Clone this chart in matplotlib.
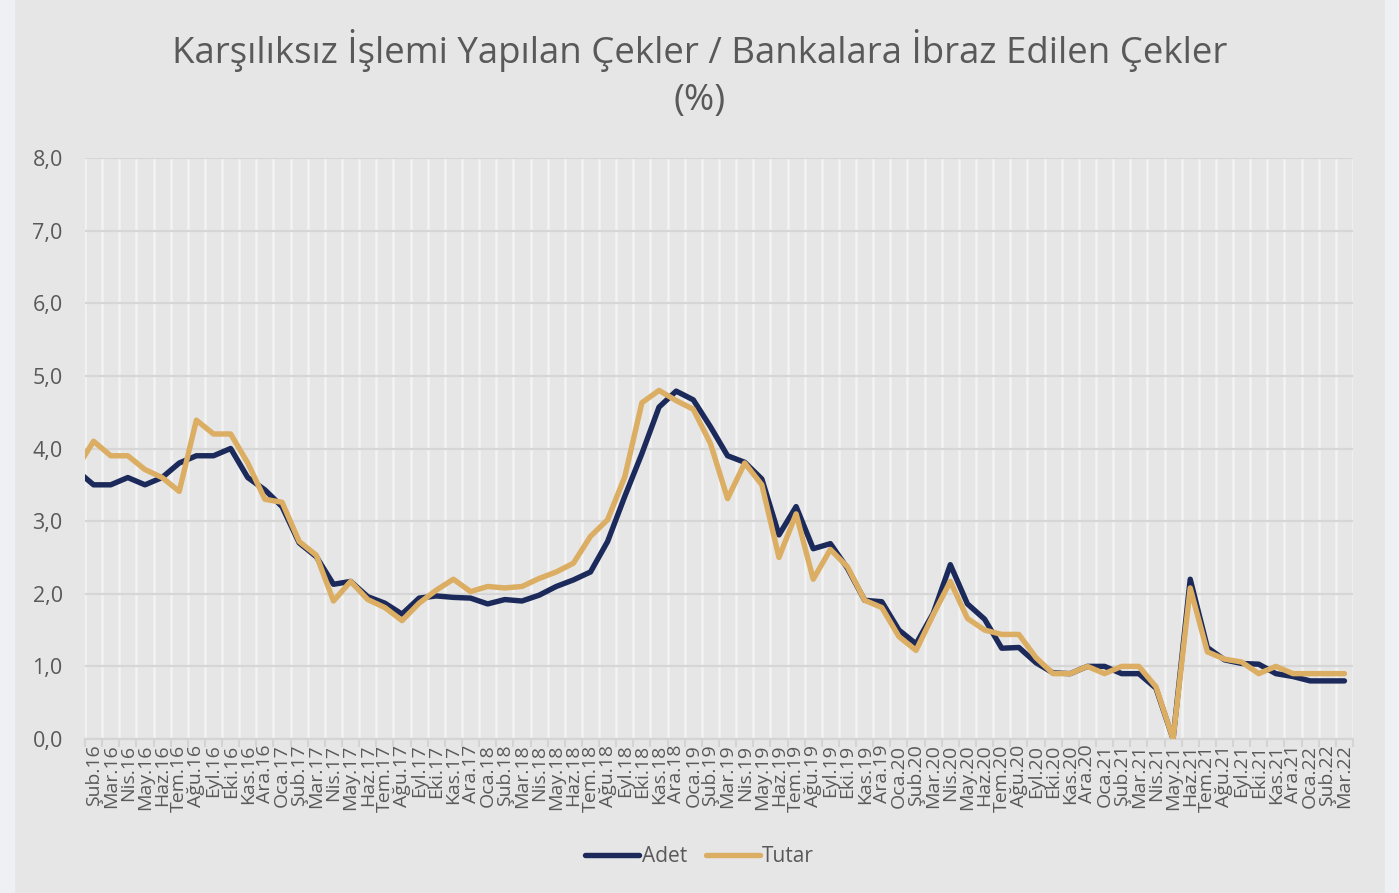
import matplotlib.pyplot as plt
from matplotlib.patches import Rectangle
from matplotlib.ticker import FixedLocator, FuncFormatter

plt.rcParams['font.family'] = ['Open Sans', 'DejaVu Sans']

# month labels, Oca.16 .. Mar.22 (Oca.16 sits just outside the left edge)
months = ["Oca", "Şub", "Mar", "Nis", "May", "Haz", "Tem", "Ağu", "Eyl", "Eki", "Kas", "Ara"]
labels = [f"{m}.{y}" for y in range(16, 23) for m in months][:75]

adet = [3.70, 3.50, 3.50, 3.60, 3.50, 3.60, 3.80, 3.90, 3.90, 4.00, 3.60, 3.43,
        3.20, 2.70, 2.51, 2.13, 2.17, 1.96, 1.87, 1.72, 1.94, 1.97, 1.95, 1.94,
        1.86, 1.92, 1.90, 1.98, 2.10, 2.19, 2.30, 2.72, 3.34, 3.93, 4.57, 4.79,
        4.67, 4.30, 3.90, 3.81, 3.58, 2.81, 3.20, 2.62, 2.69, 2.35, 1.91, 1.89,
        1.50, 1.31, 1.73, 2.40, 1.86, 1.65, 1.25, 1.26, 1.05, 0.91, 0.90, 1.00,
        1.00, 0.90, 0.90, 0.70, 0.00, 2.20, 1.26, 1.09, 1.04, 1.03, 0.90, 0.86,
        0.80, 0.80, 0.80]
tutar = [3.72, 4.10, 3.90, 3.90, 3.71, 3.60, 3.41, 4.39, 4.20, 4.20, 3.80, 3.30,
         3.26, 2.72, 2.53, 1.90, 2.17, 1.92, 1.81, 1.63, 1.87, 2.05, 2.20, 2.03,
         2.10, 2.08, 2.10, 2.21, 2.30, 2.42, 2.79, 3.02, 3.61, 4.63, 4.80, 4.66,
         4.54, 4.07, 3.31, 3.80, 3.50, 2.50, 3.10, 2.20, 2.61, 2.37, 1.91, 1.81,
         1.41, 1.22, 1.71, 2.17, 1.66, 1.50, 1.44, 1.44, 1.12, 0.90, 0.90, 1.00,
         0.90, 1.00, 1.00, 0.72, 0.00, 2.08, 1.20, 1.10, 1.06, 0.90, 1.00, 0.90,
         0.90, 0.90, 0.90]

bg = '#e6e6e6'
txt = '#595959'
navy = '#1b2a5a'
gold = '#dbae63'

fig = plt.figure(figsize=(13.99, 8.93), dpi=100, facecolor=bg)
# textured border strips of the slide behind the chart
fig.patches.append(Rectangle((0, 0), 14 / 1399, 1, transform=fig.transFigure, color='#eef0f3', zorder=-1))
fig.patches.append(Rectangle((1385 / 1399, 0), 14 / 1399, 1, transform=fig.transFigure, color='#eef0f3', zorder=-1))

ax = fig.add_axes([85 / 1399, 1 - 739 / 893, 1268 / 1399, 581 / 893])
ax.set_facecolor(bg)

x = list(range(len(labels)))
ax.plot(x, adet, color=navy, lw=3.9, solid_joinstyle='round', solid_capstyle='round', label='Adet', zorder=3)
ax.plot(x, tutar, color=gold, lw=3.9, solid_joinstyle='round', solid_capstyle='round', label='Tutar', zorder=4)

ax.set_xlim(0.5, len(labels) - 0.5)
ax.set_ylim(0, 8)

ax.set_yticks([0, 1, 2, 3, 4, 5, 6, 7, 8])
ax.yaxis.set_major_formatter(FuncFormatter(lambda v, p: f"{v:.1f}".replace('.', ',')))
ax.tick_params(axis='y', length=0, pad=16, labelsize=15.5, labelcolor=txt)

ax.set_xticks(x[1:])
ax.set_xticklabels(labels[1:], rotation=90)
ax.xaxis.set_minor_locator(FixedLocator([i + 0.5 for i in range(len(labels))]))
ax.tick_params(axis='x', which='major', length=0, pad=4, labelsize=14, labelcolor=txt)
ax.tick_params(axis='x', which='minor', length=6, width=1.5, color='#d4d4d4')

ax.grid(axis='y', which='major', color='#d6d6d6', lw=1.6, zorder=1)
ax.grid(axis='x', which='minor', color='#f3f3f3', lw=1.8, zorder=2)
ax.set_axisbelow(True)
for s in ['top', 'right', 'left']:
    ax.spines[s].set_visible(False)
ax.spines['bottom'].set_color('#d4d4d4')
ax.spines['bottom'].set_linewidth(1.6)

fig.text(0.5, 1 - 50 / 893, "Karşılıksız İşlemi Yapılan Çekler / Bankalara İbraz Edilen Çekler",
         ha='center', va='center', fontsize=26.4, color=txt)
fig.text(0.5, 1 - 101 / 893, "(%)", ha='center', va='center', fontsize=26.4, color=txt)

fig.legend(loc='center', bbox_to_anchor=(0.5, 1 - 857 / 893), ncol=2, frameon=False,
           fontsize=15, labelcolor=txt, handlelength=2.6, handletextpad=0.1, columnspacing=0.9)

fig.savefig('out.png', dpi=100, facecolor=bg)
